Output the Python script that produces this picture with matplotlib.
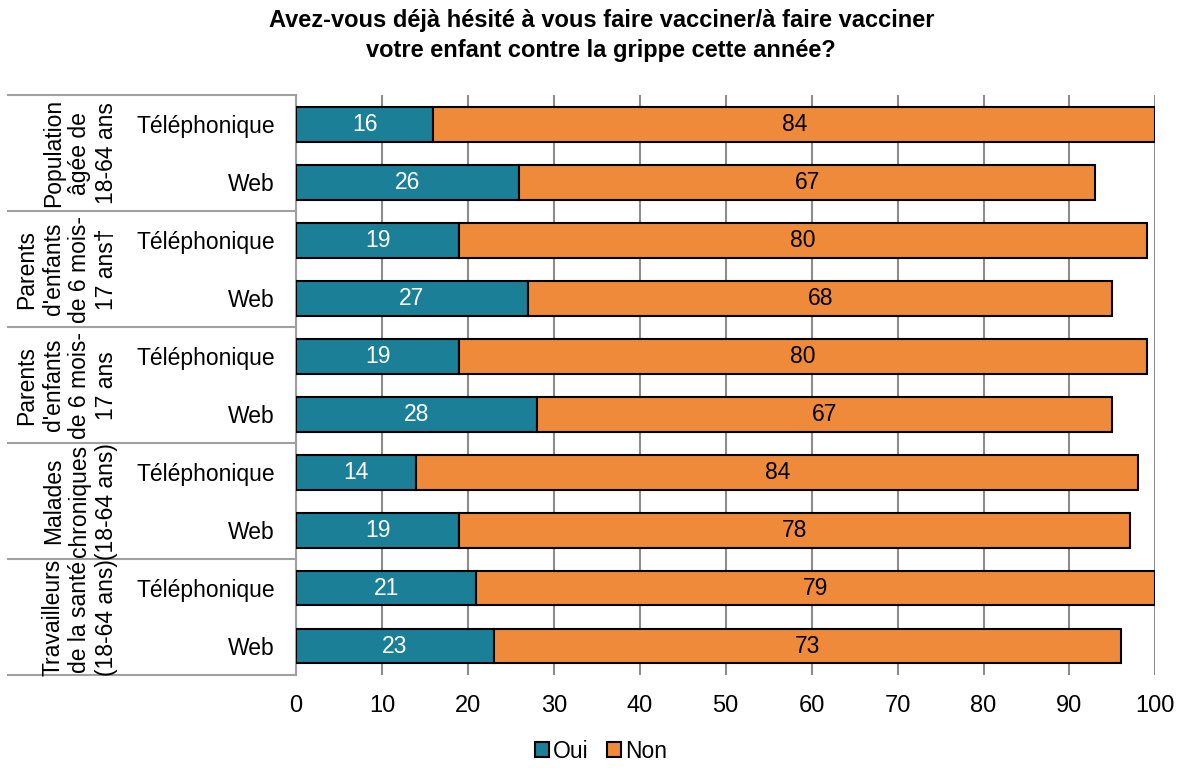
import numpy as np
import matplotlib.pyplot as plt

plt.rcParams['font.family'] = ['Liberation Sans', 'DejaVu Sans']

groups = ['Population\nâgée de\n18-64 ans',
          "Parents\nd'enfants\nde 6 mois-\n17 ans\u2020",
          "Parents\nd'enfants\nde 6 mois-\n17 ans",
          'Malades\nchroniques\n(18-64 ans)',
          'Travailleurs\nde la santé\n(18-64 ans)']
modes = ['Téléphonique', 'Web']
oui = [16, 26, 19, 27, 19, 28, 14, 19, 21, 23]
non = [84, 67, 80, 68, 80, 67, 84, 78, 79, 73]

teal = '#1b7f98'
orange = '#f08a3b'
grid_gray = '#8c8c8c'

fig = plt.figure(figsize=(11.79, 7.68), dpi=100)
ax = fig.add_axes([0.251, 0.121, 0.729, 0.755])

n = len(oui)
y = np.arange(n)
h = 0.6
b1 = ax.barh(y, oui, height=h, color=teal, edgecolor='black', linewidth=1.5, label='Oui', zorder=3)
b2 = ax.barh(y, non, left=oui, height=h, color=orange, edgecolor='black', linewidth=1.5, label='Non', zorder=3)

for i in range(n):
    ax.text(oui[i] / 2, y[i], str(oui[i]), ha='center', va='center', color='white', fontsize=16.5, zorder=4)
    ax.text(oui[i] + non[i] / 2, y[i], str(non[i]), ha='center', va='center', color='black', fontsize=16.5, zorder=4)

ax.set_ylim(n - 0.5, -0.5)
ax.set_xlim(0, 100)
ax.set_xticks(range(0, 101, 10))
ax.set_yticks(y)
ax.set_yticklabels([modes[i % 2] for i in range(n)], fontsize=16.5)
ax.tick_params(axis='y', length=0, pad=15)
ax.tick_params(axis='x', length=0, pad=14, labelsize=17)
ax.grid(axis='x', color=grid_gray, linewidth=1.5, zorder=0)

for s in ['top', 'right', 'bottom']:
    ax.spines[s].set_visible(False)
ax.spines['left'].set_color('#a0a0a0')
ax.spines['left'].set_linewidth(1.5)

# group separators and labels in the left margin
x0 = -0.335
for k in range(len(groups) + 1):
    yy = 1 - k * 2 / n
    ax.plot([x0, 0], [yy, yy], transform=ax.transAxes, color='#a0a0a0', lw=1.5, clip_on=False)
for k, g in enumerate(groups):
    yc = 1 - (2 * k + 1) / n
    ax.text(-0.207, yc, g, transform=ax.transAxes, rotation=90, ha='right', va='center',
            multialignment='center', fontsize=16.5, linespacing=1.2, clip_on=False)

fig.text(0.51, 0.988, 'Avez-vous déjà hésité à vous faire vacciner/à faire vacciner\nvotre enfant contre la grippe cette année?',
         ha='center', va='top', fontsize=17, fontweight='bold', linespacing=1.4)

fig.legend(handles=[b1, b2], loc='lower center', bbox_to_anchor=(0.51, -0.02), ncol=2, frameon=False,
           fontsize=16.5, handlelength=0.6, handleheight=0.6, handletextpad=0.2, columnspacing=0.8)

fig.savefig('out.png', dpi=100)
